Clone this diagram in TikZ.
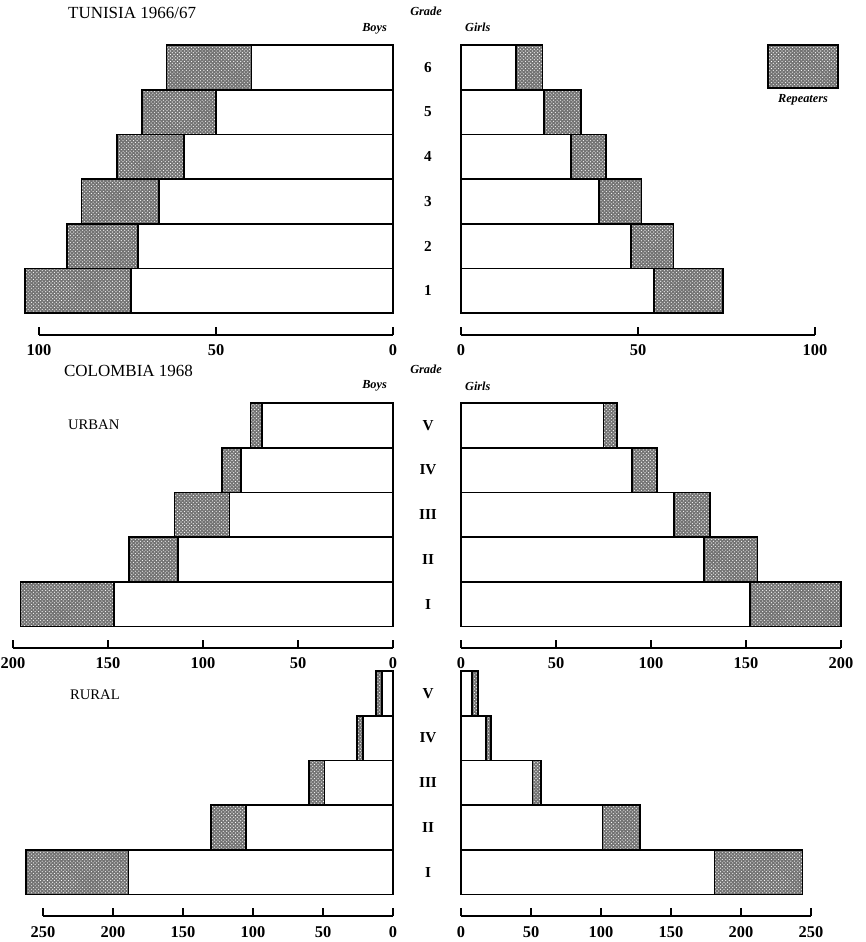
\documentclass[tikz,border=0pt]{standalone}
\usepackage{fontspec}
\setmainfont{Liberation Serif}
\usetikzlibrary{patterns}

\begin{document}
\begin{tikzpicture}[x=0.03cm, y=-0.03cm,
  bar/.style={draw, line width=1.5pt, fill=white},
  rep/.style={draw, line width=1.5pt, preaction={fill=black!55},
    preaction={pattern=crosshatch dots, pattern color=white}},
  axis/.style={line width=1.1pt},
  grade/.style={font=\fontsize{13}{13}\selectfont\bfseries},
  num/.style={font=\fontsize{14}{14}\selectfont\bfseries},
  head/.style={font=\fontsize{10.5}{12}\selectfont\bfseries\itshape},
  title/.style={font=\fontsize{14.5}{16}\selectfont, anchor=west}]
\useasboundingbox (0,0) rectangle (866,942);

% Titles
\node[title] (tunisia) at (64,13) {TUNISIA 1966/67};
\node[head] (gradeT) at (426,11) {Grade};
\node[head, anchor=east] (boysT) at (391,29) {Boys};
\node[head, anchor=west] (girlsT) at (461,27) {Girls};
\node[title] (colombia) at (60,371) {COLOMBIA 1968};
\node[head] (gradeC) at (426,369) {Grade};
\node[head, anchor=east] (boysC) at (391,386) {Boys};
\node[head, anchor=west] (girlsC) at (461,386) {Girls};
\node[title, font=\fontsize{12.5}{14}\selectfont] (urban) at (64,425) {URBAN};
\node[title, font=\fontsize{12.5}{14}\selectfont] (rural) at (66,695) {RURAL};

% Legend
\draw[rep] (768,45) rectangle (838,88);
\node[head] (keytext) at (803,100) {Repeaters};

% Tunisia, boys
\begin{scope}[shift={(393,45)}, xscale=-3.54]
  \foreach \n/\t [count=\i from 0] in {40/64,50/71,59/78,66/88,72/92,74/104} {
    \draw[bar] (0,\i*44.7) rectangle (\n,\i*44.7+44.7);
    \draw[rep] (\n,\i*44.7) rectangle (\t,\i*44.7+44.7);
  }
  \draw[axis] (0,290) -- (100,290);
  \foreach \v in {0,50,100} {
    \draw[axis] (\v,290) -- (\v,282);
    \node[num] (tb\v) at (\v,305) {\v};
  }
\end{scope}

% Tunisia, girls
\begin{scope}[shift={(461,45)}, xscale=3.54]
  \foreach \n/\t [count=\i from 0] in {15.5/23,23.5/34,31/41,39/51,48/60,54.5/74} {
    \draw[bar] (0,\i*44.7) rectangle (\n,\i*44.7+44.7);
    \draw[rep] (\n,\i*44.7) rectangle (\t,\i*44.7+44.7);
  }
  \draw[axis] (0,290) -- (100,290);
  \foreach \v in {0,50,100} {
    \draw[axis] (\v,290) -- (\v,282);
    \node[num] (tg\v) at (\v,305) {\v};
  }
\end{scope}

% Grades
\foreach \g [count=\i from 0] in {6,5,4,3,2,1}
  \node[grade] (gt\i) at (428,67.35+\i*44.7) {\g};

% Colombia urban, boys
\begin{scope}[shift={(393,403)}, xscale=-1.9]
  \foreach \n/\t [count=\i from 0] in {69/75,80/90,86/115,113/139,147/196} {
    \draw[bar] (0,\i*44.7) rectangle (\n,\i*44.7+44.7);
    \draw[rep] (\n,\i*44.7) rectangle (\t,\i*44.7+44.7);
  }
  \draw[axis] (0,245) -- (200,245);
  \foreach \v in {0,50,...,200} {
    \draw[axis] (\v,245) -- (\v,237);
    \node[num] (ub\v) at (\v,260) {\v};
  }
\end{scope}

% Colombia urban, girls
\begin{scope}[shift={(461,403)}, xscale=1.9]
  \foreach \n/\t [count=\i from 0] in {75/82,90/103,112/131,128/156,152/200} {
    \draw[bar] (0,\i*44.7) rectangle (\n,\i*44.7+44.7);
    \draw[rep] (\n,\i*44.7) rectangle (\t,\i*44.7+44.7);
  }
  \draw[axis] (0,245) -- (200,245);
  \foreach \v in {0,50,...,200} {
    \draw[axis] (\v,245) -- (\v,237);
    \node[num] (ug\v) at (\v,260) {\v};
  }
\end{scope}

\foreach \g [count=\i from 0] in {V,IV,III,II,I}
  \node[grade] (gu\i) at (428,425.35+\i*44.7) {\g};

% Colombia rural, boys
\begin{scope}[shift={(393,671)}, xscale=-1.4]
  \foreach \n/\t [count=\i from 0] in {8/12,21.5/25.5,49/60,105/130,189/262} {
    \draw[bar] (0,\i*44.7) rectangle (\n,\i*44.7+44.7);
    \draw[rep] (\n,\i*44.7) rectangle (\t,\i*44.7+44.7);
  }
  \draw[axis] (0,245) -- (250,245);
  \foreach \v in {0,50,...,250} {
    \draw[axis] (\v,245) -- (\v,237);
    \node[num] (rb\v) at (\v,261) {\v};
  }
\end{scope}

% Colombia rural, girls
\begin{scope}[shift={(461,671)}, xscale=1.4]
  \foreach \n/\t [count=\i from 0] in {8/12,18/21.5,51/57,101/128,181/244} {
    \draw[bar] (0,\i*44.7) rectangle (\n,\i*44.7+44.7);
    \draw[rep] (\n,\i*44.7) rectangle (\t,\i*44.7+44.7);
  }
  \draw[axis] (0,245) -- (250,245);
  \foreach \v in {0,50,...,250} {
    \draw[axis] (\v,245) -- (\v,237);
    \node[num] (rg\v) at (\v,261) {\v};
  }
\end{scope}

\foreach \g [count=\i from 0] in {V,IV,III,II,I}
  \node[grade] (gr\i) at (428,693.35+\i*44.7) {\g};

\end{tikzpicture}
\end{document}
